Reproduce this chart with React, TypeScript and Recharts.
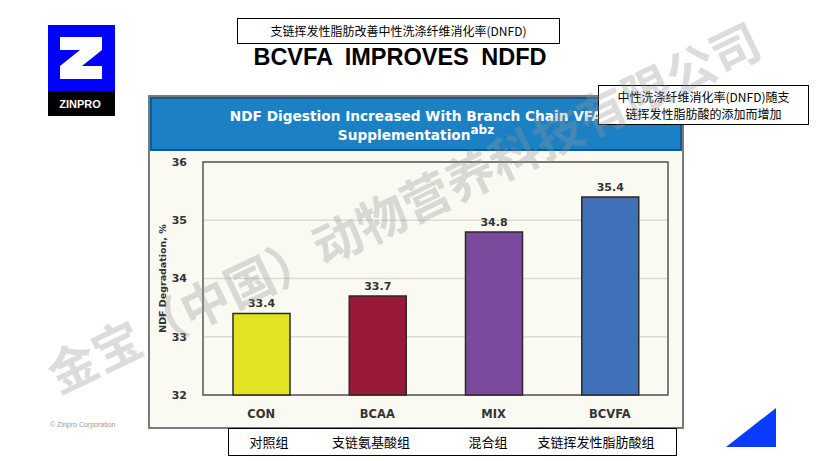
import React from "react";
import {
  BarChart,
  Bar,
  XAxis,
  YAxis,
  CartesianGrid,
  Cell,
  LabelList,
  ReferenceArea,
} from "recharts";

const groups = ["CON", "BCAA", "MIX", "BCVFA"];
const ndfd = [33.4, 33.7, 34.8, 35.4];
const groupNamesCn = ["对照组", "支链氨基酸组", "混合组", "支链挥发性脂肪酸组"];
const yTicks = [32, 33, 34, 35, 36];
const COLORS = ["#e2e322", "#981a36", "#7b4a9c", "#4070b8"];

const data = groups.map((g, i) => ({ name: g, value: ndfd[i] }));

// centres of the chinese captions, relative to the caption box
const captionX = [40, 142, 259, 367];

const CJK = '"Noto Sans CJK SC", "Noto Sans", sans-serif';
const LATIN = '"Liberation Sans", Arial, sans-serif';
const TAHOMA = '"DejaVu Sans", Verdana, sans-serif';

function Logo() {
  return (
    <svg width={67} height={91} style={{ position: "absolute", left: 48, top: 25 }}>
      <rect x={0} y={0} width={67} height={66} fill="#0000ff" />
      <rect x={0} y={66} width={67} height={25} fill="#000" />
      <polygon
        points="12,12 54,12 54,25 34,41 54,41 54,54 12,54 12,41 32,25 12,25"
        fill="#fff"
      />
      <text
        x={32}
        y={83}
        textAnchor="middle"
        fill="#fff"
        fontFamily={LATIN}
        fontWeight={700}
        fontSize={11}
      >
        ZINPRO
      </text>
    </svg>
  );
}

export default function App() {
  return (
    <div
      style={{
        position: "absolute",
        left: 0,
        top: 0,
        width: 819,
        height: 461,
        background: "#fff",
        overflow: "hidden",
        fontFamily: CJK,
      }}
    >
      <Logo />

      <div
        style={{
          position: "absolute",
          left: 237,
          top: 18,
          width: 323,
          height: 26,
          boxSizing: "border-box",
          border: "1px solid #000",
          fontSize: 12,
          lineHeight: "24px",
          textAlign: "center",
          color: "#000",
        }}
      >
        支链挥发性脂肪改善中性洗涤纤维消化率(DNFD)
      </div>
      <div
        style={{
          position: "absolute",
          left: 150,
          top: 44,
          width: 500,
          textAlign: "center",
          fontFamily: LATIN,
          fontWeight: 700,
          fontSize: 23.5,
          wordSpacing: 6,
          color: "#000",
        }}
      >
        BCVFA IMPROVES NDFD
      </div>

      {/* chart panel */}
      <div
        style={{
          position: "absolute",
          left: 148,
          top: 95,
          width: 536,
          height: 334,
          boxSizing: "border-box",
          border: "2px solid #7a7a7a",
          background: "#fafaf3",
        }}
      >
        <div
          style={{
            position: "absolute",
            left: 0,
            top: 0,
            right: 0,
            height: 54,
            boxSizing: "border-box",
            border: "2px solid #10599a",
            background: "#1b81c4",
            color: "#fff",
            fontFamily: TAHOMA,
            fontWeight: 700,
            fontSize: 13.7,
            textAlign: "center",
            paddingTop: 8,
            lineHeight: "19px",
            whiteSpace: "nowrap",
          }}
        >
          NDF Digestion Increased With Branch Chain VFA
          <br />
          Supplementation
          <sup style={{ fontSize: 12, lineHeight: 0 }}>abz</sup>
        </div>
      </div>

      <div style={{ position: "absolute", left: 148, top: 150 }}>
        <BarChart
          width={535}
          height={278}
          data={data}
          margin={{ top: 12, right: 15, bottom: 0, left: 0 }}
          barSize={57}
        >
          <CartesianGrid vertical={false} stroke="#dcdcd6" strokeWidth={1.5} />
          <XAxis
            dataKey="name"
            axisLine={false}
            tickLine={false}
            tickMargin={9}
            height={33}
            tick={{ fill: "#333", fontSize: 11.5, fontWeight: 700, fontFamily: TAHOMA }}
          />
          <YAxis
            domain={[32, 36]}
            ticks={yTicks}
            width={55}
            axisLine={false}
            tickLine={false}
            tickMargin={10}
            tick={{ fill: "#333", fontSize: 11, fontWeight: 700, fontFamily: TAHOMA }}
            label={{
              value: "NDF Degradation, %",
              angle: -90,
              position: "insideLeft",
              offset: 15,
              style: {
                textAnchor: "middle",
                fill: "#333",
                fontSize: 9.5,
                fontWeight: 700,
                fontFamily: TAHOMA,
              },
            }}
          />
          <ReferenceArea y1={32} y2={36} fill="none" stroke="#555" strokeWidth={1.5} />
          <Bar dataKey="value" isAnimationActive={false} stroke="#2a2a2a" strokeWidth={1.5}>
            {data.map((_, i) => (
              <Cell key={i} fill={COLORS[i]} />
            ))}
            <LabelList
              dataKey="value"
              position="top"
              offset={6}
              style={{ fill: "#333", fontSize: 11, fontWeight: 700, fontFamily: TAHOMA }}
            />
          </Bar>
        </BarChart>
      </div>

      {/* Chinese group names */}
      <div
        style={{
          position: "absolute",
          left: 228,
          top: 428,
          width: 449,
          height: 28,
          boxSizing: "border-box",
          border: "1px solid #000",
          background: "#fff",
          fontSize: 13,
          color: "#000",
        }}
      >
        {groupNamesCn.map((n, i) => (
          <span
            key={n}
            style={{
              position: "absolute",
              left: captionX[i],
              top: 3,
              whiteSpace: "nowrap",
              transform: "translateX(-50%)",
            }}
          >
            {n}
          </span>
        ))}
      </div>

      <div
        style={{
          position: "absolute",
          left: 598,
          top: 85,
          width: 211,
          height: 40,
          boxSizing: "border-box",
          border: "1px solid #000",
          background: "#fff",
          fontSize: 12,
          lineHeight: "17px",
          textAlign: "center",
          paddingTop: 2,
          color: "#000",
        }}
      >
        中性洗涤纤维消化率(DNFD)随支
        <br />
        链挥发性脂肪酸的添加而增加
      </div>

      <div
        style={{
          position: "absolute",
          left: 50,
          top: 421,
          fontFamily: LATIN,
          fontSize: 7,
          color: "#9a9a9a",
        }}
      >
        © Zinpro Corporation
      </div>

      <svg
        width={819}
        height={461}
        style={{ position: "absolute", left: 0, top: 0, pointerEvents: "none" }}
      >
        <polygon points="726,447 776,447 776,408" fill="#0a3cff" />
        <text
          x={404}
          y={226}
          textAnchor="middle"
          transform="rotate(-25.7 404 208)"
          fontFamily={CJK}
          fontWeight={700}
          fontSize={49}
          fill="rgba(150,150,150,0.33)"
        >
          金宝（中国）动物营养科技有限公司
        </text>
      </svg>
    </div>
  );
}
